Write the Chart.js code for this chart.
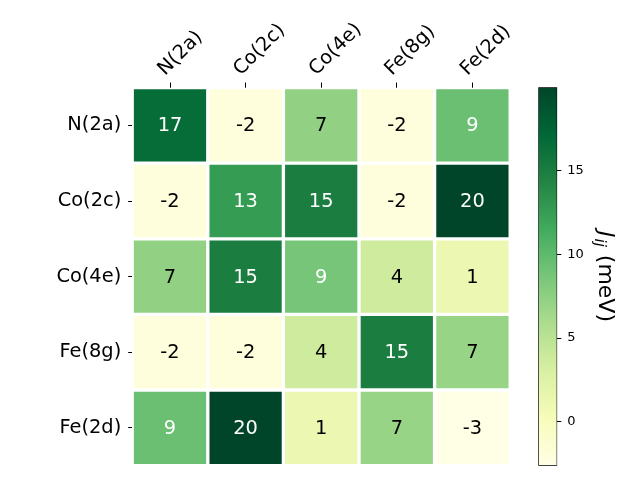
<!DOCTYPE html>
<html>
<head>
<meta charset="utf-8">
<script src="https://cdn.jsdelivr.net/npm/chart.js@4"></script>
<style>
  body { margin: 0; background: #fff; }
  #wrap { position: relative; width: 640px; height: 480px; }
  canvas { position: absolute; left: 0; top: 0; }
</style>
</head>
<body>
<div id="wrap">
  <canvas id="heatmap" width="640" height="480"></canvas>
  <canvas id="colorbar" width="640" height="480"></canvas>
</div>
<script>
// site labels (rows top to bottom, columns left to right)
const rowLabels = ["N(2a)", "Co(2c)", "Co(4e)", "Fe(8g)", "Fe(2d)"];
const colLabels = ["N(2a)", "Co(2c)", "Co(4e)", "Fe(8g)", "Fe(2d)"];

// J_ij in meV, one array per row
const rowN2a = [16.7, -2.1, 7.3, -2.1, 9.4];
const rowCo2c = [-2.1, 12.6, 15.0, -2.1, 20.0];
const rowCo4e = [7.3, 15.0, 8.8, 3.7, 1.2];
const rowFe8g = [-2.1, -2.1, 3.7, 15.0, 7.0];
const rowFe2d = [9.4, 20.0, 1.2, 7.0, -2.63];
const jValues = [rowN2a, rowCo2c, rowCo4e, rowFe8g, rowFe2d];

// colorbar ticks
const cbTicks = [0, 5, 10, 15];

const allValues = jValues.flat();
const vmin = Math.min(...allValues);
const vmax = Math.max(...allValues);

// matplotlib YlGn
const ylgnStops = [
  [255, 255, 229], [247, 252, 185], [217, 240, 163], [173, 221, 142],
  [120, 198, 121], [65, 171, 93], [35, 132, 67], [0, 104, 55], [0, 69, 41],
];

function ylgn(t) {
  t = Math.min(1, Math.max(0, t));
  const pos = t * (ylgnStops.length - 1);
  const i = Math.min(Math.floor(pos), ylgnStops.length - 2);
  const f = pos - i;
  const a = ylgnStops[i];
  const b = ylgnStops[i + 1];
  const c = a.map((v, k) => Math.round(v + (b[k] - v) * f));
  return `rgb(${c[0]}, ${c[1]}, ${c[2]})`;
}

function colorFor(v) {
  return ylgn((v - vmin) / (vmax - vmin));
}

Chart.defaults.font.family = "'DejaVu Sans', sans-serif";
Chart.defaults.color = "#000";

const labelFont = { size: 19.4 };
const textThreshold = (vmin + vmax) / 2;

// numbers inside the cells
const cellText = {
  id: "cellText",
  afterDatasetsDraw(chart) {
    const { ctx } = chart;
    const x = chart.scales.x;
    const y = chart.scales.y;
    ctx.save();
    ctx.font = "19.4px 'DejaVu Sans'";
    ctx.textAlign = "center";
    ctx.textBaseline = "middle";
    jValues.forEach((row, r) => {
      row.forEach((v, c) => {
        ctx.fillStyle = v > textThreshold ? "#fff" : "#000";
        ctx.fillText(
          String(Math.round(v)),
          x.getPixelForValue(c + 0.5),
          y.getPixelForValue(r) + 1
        );
      });
    });
    ctx.restore();
  },
};

new Chart(document.getElementById("heatmap").getContext("2d"), {
  type: "bar",
  data: {
    labels: rowLabels,
    datasets: colLabels.map((col, c) => ({
      label: col,
      data: rowLabels.map(() => [c, c + 1]),
      backgroundColor: jValues.map((row) => colorFor(row[c])),
      borderColor: "#fff",
      borderWidth: 2,
      borderSkipped: false,
      barPercentage: 1,
      categoryPercentage: 1,
      grouped: false,
    })),
  },
  options: {
    indexAxis: "y",
    responsive: false,
    animation: false,
    layout: { padding: { left: 0, right: 129.8, top: 0, bottom: 14.4 } },
    plugins: {
      legend: { display: false },
      tooltip: { enabled: false },
    },
    scales: {
      x: {
        type: "linear",
        position: "top",
        min: 0,
        max: 5,
        afterBuildTicks: (scale) => {
          scale.ticks = colLabels.map((_, i) => ({ value: i + 0.5 }));
        },
        afterFit: (scale) => {
          scale.height = 87.6;
          scale.paddingLeft = 0;
          scale.paddingRight = 0;
        },
        ticks: {
          callback: (value, index) => colLabels[index],
          minRotation: 45,
          maxRotation: 45,
          autoSkip: false,
          font: labelFont,
          color: "#000",
          padding: 2,
          labelOffset: 8,
        },
        grid: { drawOnChartArea: false, tickLength: 5, color: "#000" },
        border: { display: false },
      },
      y: {
        type: "category",
        offset: true,
        afterFit: (scale) => {
          scale.width = 132.2;
          scale.paddingTop = 0;
          scale.paddingBottom = 0;
        },
        ticks: { font: labelFont, color: "#000", padding: 7 },
        grid: {
          offset: false,
          drawOnChartArea: false,
          tickLength: 4,
          color: "#000",
        },
        border: { display: false },
      },
    },
  },
  plugins: [cellText],
});

// colorbar label J_ij (meV), read top to bottom
const cbLabel = {
  id: "cbLabel",
  afterDraw(chart) {
    const { ctx, chartArea } = chart;
    const mid = (chartArea.top + chartArea.bottom) / 2;
    ctx.save();
    ctx.translate(599, mid);
    ctx.rotate(Math.PI / 2);
    ctx.fillStyle = "#000";
    ctx.textBaseline = "alphabetic";
    const big = "22px 'DejaVu Sans'";
    const bigIt = "italic 22px 'DejaVu Sans'";
    const sub = "italic 15px 'DejaVu Sans'";
    const parts = [
      { t: "J", f: bigIt, dy: 0 },
      { t: "ij", f: sub, dy: 4 },
      { t: " (meV)", f: big, dy: 0 },
    ];
    let total = 0;
    parts.forEach((p) => {
      ctx.font = p.f;
      p.w = ctx.measureText(p.t).width + (p.t === "ij" ? 2 : 0);
      total += p.w;
    });
    let x0 = -total / 2;
    parts.forEach((p) => {
      ctx.font = p.f;
      ctx.fillText(p.t, x0 + (p.t === "ij" ? 1 : 0), p.dy);
      x0 += p.w;
    });
    ctx.restore();
  },
};

new Chart(document.getElementById("colorbar").getContext("2d"), {
  type: "bar",
  data: {
    labels: [""],
    datasets: [
      {
        data: [[vmin, vmax]],
        backgroundColor: (context) => {
          const { chart } = context;
          const area = chart.chartArea;
          if (!area) return ylgn(0.5);
          const g = chart.ctx.createLinearGradient(0, area.bottom, 0, area.top);
          ylgnStops.forEach((s, i) => {
            g.addColorStop(i / (ylgnStops.length - 1), `rgb(${s[0]}, ${s[1]}, ${s[2]})`);
          });
          return g;
        },
        borderColor: "#000",
        borderWidth: 1,
        borderSkipped: false,
        barPercentage: 1,
        categoryPercentage: 1,
      },
    ],
  },
  options: {
    responsive: false,
    animation: false,
    layout: { padding: { left: 538.3, right: 0, top: 87.3, bottom: 14.3 } },
    plugins: {
      legend: { display: false },
      tooltip: { enabled: false },
    },
    scales: {
      x: { display: false },
      y: {
        position: "right",
        min: vmin,
        max: vmax,
        afterBuildTicks: (scale) => {
          scale.ticks = cbTicks.map((v) => ({ value: v }));
        },
        afterFit: (scale) => {
          scale.width = 82.7;
          scale.paddingTop = 0;
          scale.paddingBottom = 0;
        },
        ticks: { font: { size: 13 }, color: "#000", padding: 6 },
        grid: { drawOnChartArea: false, tickLength: 4, color: "#000" },
        border: { display: false },
      },
    },
  },
  plugins: [cbLabel],
});
</script>
</body>
</html>
